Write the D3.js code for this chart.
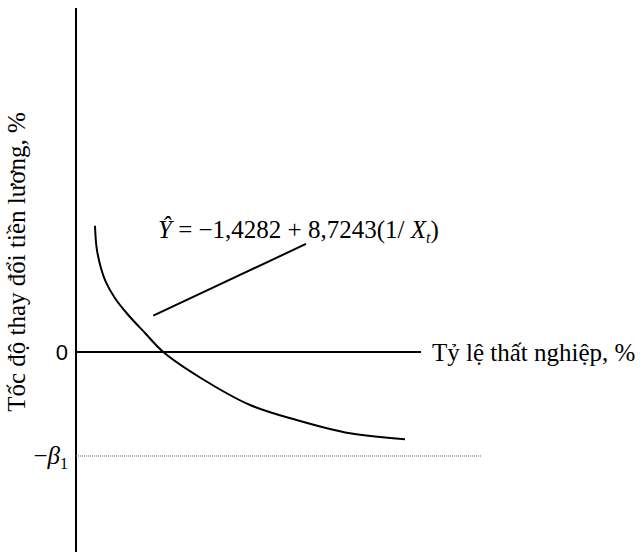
<!DOCTYPE html>
<html>
<head>
<meta charset="utf-8">
<script src="https://cdn.jsdelivr.net/npm/d3@7"></script>
<style>
  html, body { margin: 0; padding: 0; background: #fff; }
  svg { display: block; }
  text { font-family: "Liberation Serif", "Times New Roman", serif; fill: #000; }
</style>
</head>
<body>
<svg id="chart" width="642" height="553"></svg>
<script>
// Fitted Phillips curve: Ŷ = −1,4282 + 8,7243(1/X_t)
const beta1 = 1.4282;
const slopeCoef = 8.7243;

// Sketched curve (unemployment rate, wage change)
const curveX = [1.10, 1.20, 1.45, 1.72, 2.26, 3.03, 4.00, 5.06, 7.19, 10.09, 12.79, 15.88, 19.07];
const curveY = [1.735, 1.424, 1.150, 0.966, 0.738, 0.508, 0.261, 0.0, -0.350, -0.728, -0.934, -1.117, -1.199];

// Pointer from the equation to the curve
const pointerX = [4.48, 13.33];
const pointerY = [0.499, 1.484];

// Axis labels
const xLabel = "Tỷ lệ thất nghiệp, %";
const yLabel = "Tốc độ thay đổi tiền lương, %";
const zeroLabel = "0";

const svg = d3.select("#chart");

const x = d3.scaleLinear().domain([0, 20]).range([76, 421]);
const y = d3.scaleLinear().domain([-2.747, 4.725]).range([552, 8]);

// vertical axis
svg.append("line")
  .attr("x1", x(0)).attr("x2", x(0))
  .attr("y1", y(4.725)).attr("y2", y(-2.747))
  .attr("stroke", "#000").attr("stroke-width", 2);

// horizontal axis (Y = 0)
svg.append("line")
  .attr("x1", x(0)).attr("x2", x(20))
  .attr("y1", y(0)).attr("y2", y(0))
  .attr("stroke", "#000").attr("stroke-width", 2);

// asymptote at −β1
svg.append("line")
  .attr("x1", x(0)).attr("x2", x(23.5))
  .attr("y1", y(-beta1)).attr("y2", y(-beta1))
  .attr("stroke", "#666").attr("stroke-width", 1)
  .attr("stroke-dasharray", "1,1");

// the curve
const pts = curveX.map((d, i) => [d, curveY[i]]);
svg.append("path")
  .datum(pts)
  .attr("d", d3.line().x(d => x(d[0])).y(d => y(d[1])).curve(d3.curveCatmullRom.alpha(0.5)))
  .attr("fill", "none").attr("stroke", "#000").attr("stroke-width", 2);

// pointer line
svg.append("line")
  .attr("x1", x(pointerX[0])).attr("y1", y(pointerY[0]))
  .attr("x2", x(pointerX[1])).attr("y2", y(pointerY[1]))
  .attr("stroke", "#000").attr("stroke-width", 2);

// zero tick label
svg.append("text")
  .attr("x", x(0) - 8).attr("y", y(0))
  .attr("text-anchor", "end").attr("dominant-baseline", "central")
  .style("font-family", "'Liberation Sans', Arial, sans-serif")
  .style("font-size", "22px")
  .text(zeroLabel);

// −β1 label
const bl = svg.append("text")
  .attr("x", x(0) - 8).attr("y", y(-beta1) + 8)
  .attr("text-anchor", "end")
  .style("font-size", "25px");
bl.append("tspan").text("−");
bl.append("tspan").style("font-style", "italic").text("β");
bl.append("tspan").attr("dy", 5).style("font-size", "16px").text("1");

// x-axis label
svg.append("text")
  .attr("x", x(20) + 11).attr("y", y(0))
  .attr("dominant-baseline", "central")
  .style("font-size", "25px")
  .text(xLabel);

// y-axis label
svg.append("text")
  .attr("transform", `translate(25, 262) rotate(-90)`)
  .attr("text-anchor", "middle")
  .style("font-size", "25px")
  .text(yLabel);

// regression equation
const eq = svg.append("text")
  .attr("x", 158).attr("y", 238)
  .style("font-size", "25px");
eq.append("tspan").style("font-style", "italic").text("Ŷ");
eq.append("tspan").text(` = −${beta1.toFixed(4).replace(".", ",")} + ${slopeCoef.toFixed(4).replace(".", ",")}(1/ `);
eq.append("tspan").style("font-style", "italic").text("X");
eq.append("tspan").attr("dy", 5).style("font-size", "16px").style("font-style", "italic").text("t");
eq.append("tspan").attr("dy", -5).text(")");
</script>
</body>
</html>
